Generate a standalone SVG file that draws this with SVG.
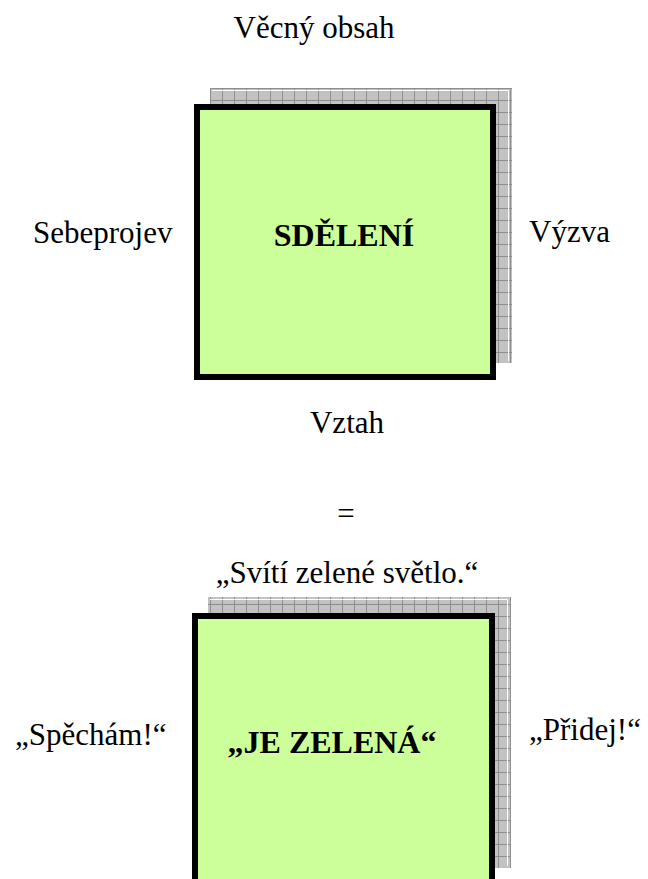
<svg xmlns="http://www.w3.org/2000/svg" width="648" height="879" viewBox="0 0 648 879">
<style>
text{font-family:'Liberation Serif','Times New Roman','DejaVu Serif',serif;font-size:31px;fill:#000}
.b{font-weight:bold;font-size:32px}
.box{fill:#ccff99;stroke:#000;stroke-width:6}
.sh{fill:url(#grid)}
.hl{fill:none;stroke:#fff;stroke-width:1}
</style>
<defs>
<pattern id="grid" width="12" height="12" patternUnits="userSpaceOnUse" x="210" y="88">
<rect width="12" height="12" fill="#c2c2c2"/>
<path d="M0 0.5H12M0.5 0V12" stroke="#8e8e8e" stroke-width="1"/>
</pattern>
</defs>
<g id="node-sdeleni">
<rect class="sh" x="210" y="88" width="302" height="275"/>
<path class="hl" d="M212 90.5H508.5V361"/>
<rect class="box" x="197" y="107" width="296" height="270"/>
<text class="b" x="344" y="246" text-anchor="middle">SDĚLENÍ</text>
</g>
<g id="node-zelena">
<rect class="sh" x="208" y="597" width="303" height="271"/>
<path class="hl" d="M210 599.5H507.5V866"/>
<rect class="box" x="195" y="616" width="297" height="300"/>
<text class="b" x="332" y="753" text-anchor="middle">„JE ZELENÁ“</text>
</g>
<g id="labels">
<text x="314" y="38" text-anchor="middle">Věcný obsah</text>
<text x="33" y="243">Sebeprojev</text>
<text x="529" y="242">Výzva</text>
<text x="347" y="433" text-anchor="middle">Vztah</text>
<text x="346" y="524" text-anchor="middle">=</text>
<text x="347" y="583" text-anchor="middle">„Svítí zelené světlo.“</text>
<text x="15" y="745">„Spěchám!“</text>
<text x="529" y="740">„Přidej!“</text>
</g>
<g id="connectors"></g>
</svg>
